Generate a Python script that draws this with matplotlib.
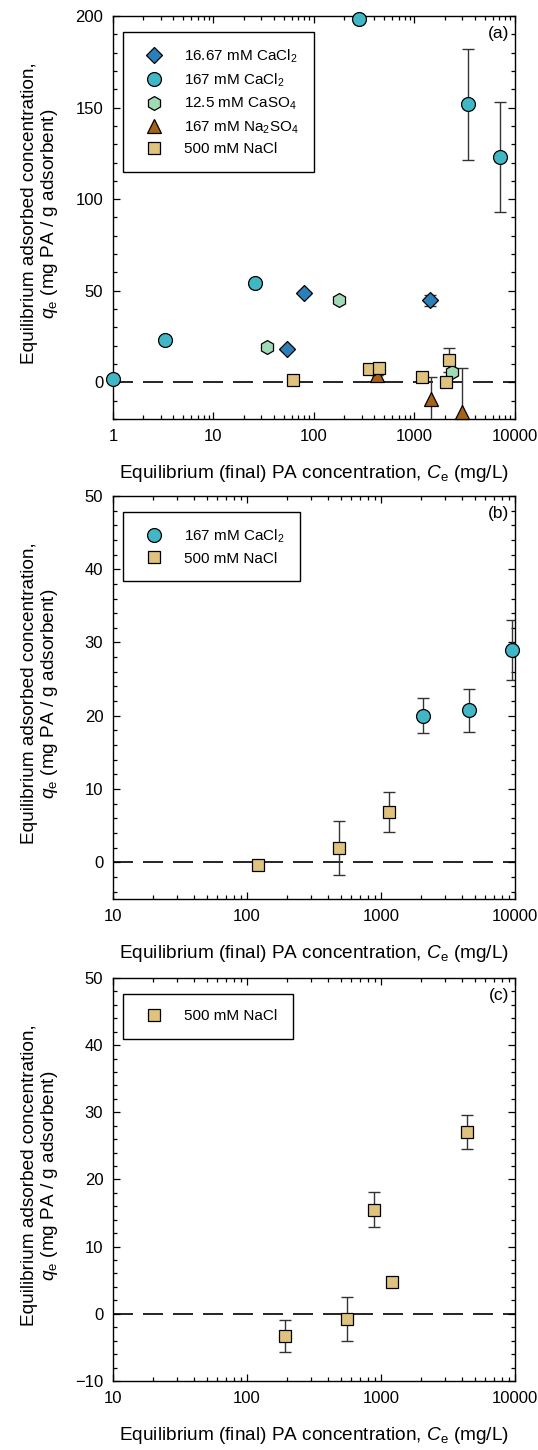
import numpy as np
import matplotlib
matplotlib.use("Agg")
import matplotlib.pyplot as plt
from matplotlib.ticker import LogLocator, MultipleLocator, NullFormatter

plt.rcParams["font.family"] = ["Liberation Sans", "DejaVu Sans"]
plt.rcParams["mathtext.fontset"] = "custom"
plt.rcParams["mathtext.rm"] = "Liberation Sans"
plt.rcParams["mathtext.it"] = "Liberation Sans:italic"
plt.rcParams["font.size"] = 12

# ---- panel (a) data ----
a_cacl2_lo_x = [53.5, 79, 1426]
a_cacl2_lo_y = [18.4, 49, 44.8]
a_cacl2_lo_e = [0, 0, 3.0]

a_cacl2_hi_x = [1.0, 3.3, 25.9, 282, 3430, 7100]
a_cacl2_hi_y = [2.0, 23.0, 54.3, 198.5, 151.7, 123.0]
a_cacl2_hi_e = [0, 0, 0, 0, 30.5, 30.0]

a_caso4_x = [34.3, 176, 2378]
a_caso4_y = [19.3, 44.8, 5.6]
a_caso4_e = [0, 0, 0]

a_na2so4_x = [421, 1459, 2946]
a_na2so4_y = [4.0, -8.9, -16.2]
a_na2so4_e = [0, 11.6, 24.0]

a_nacl_x = [61.4, 355, 447, 1180, 2043, 2218]
a_nacl_y = [1.5, 7.5, 7.8, 2.9, 0.2, 12.4]
a_nacl_e = [0, 0, 0, 0, 0, 6.6]

# ---- panel (b) data ----
b_cacl2_x = [2047, 4508, 9440]
b_cacl2_y = [20.0, 20.75, 29.0]
b_cacl2_e = [2.4, 2.9, 4.1]

b_nacl_x = [121, 489, 1153]
b_nacl_y = [-0.4, 1.95, 6.85]
b_nacl_e = [0, 3.7, 2.7]

# ---- panel (c) data ----
c_nacl_x = [192, 555, 887, 1208, 4385]
c_nacl_y = [-3.3, -0.74, 15.5, 4.66, 27.1]
c_nacl_e = [2.4, 3.3, 2.6, 0.3, 2.5]

C_DIAM = "#2c7fb8"
C_CIRC = "#41b6c4"
C_HEX = "#a1dab4"
C_TRI = "#a6611a"
C_SQ = "#dfc27d"
ERR = "#333333"

XLABEL = "Equilibrium (final) PA concentration, $\\mathit{C}_\\mathrm{e}$ (mg/L)"
YLABEL = "Equilibrium adsorbed concentration,\n$\\mathit{q}_\\mathrm{e}$ (mg PA / g adsorbent)"

fig = plt.figure(figsize=(5.38, 14.5), dpi=100)
L, W = 0.210, 0.747
ax_a = fig.add_axes([L, 0.711, W, 0.278])
ax_b = fig.add_axes([L, 0.380, W, 0.278])
ax_c = fig.add_axes([L, 0.0476, W, 0.278])


def series(ax, x, y, e, marker, color, ms, label):
    ax.errorbar(x, y, yerr=e, fmt="none", ecolor=ERR, elinewidth=1.0,
                capsize=4.5, capthick=1.0, zorder=2)
    ax.plot(x, y, ls="none", marker=marker, ms=ms, mfc=color, mec="black",
            mew=0.9, label=label, zorder=3, clip_on=False)


def style(ax, xlim, ylim, major, minor, tag):
    ax.set_xscale("log")
    ax.set_xlim(*xlim)
    ax.set_ylim(*ylim)
    ax.axhline(0, color="black", lw=1.2, dashes=(12, 6), zorder=1)
    ax.xaxis.set_major_locator(LogLocator(base=10, numticks=10))
    ax.xaxis.set_minor_locator(LogLocator(base=10, subs=np.arange(2, 10), numticks=10))
    ax.xaxis.set_minor_formatter(NullFormatter())
    ax.xaxis.set_major_formatter(plt.FuncFormatter(lambda v, p: f"{v:g}"))
    ax.yaxis.set_major_locator(MultipleLocator(major))
    ax.yaxis.set_minor_locator(MultipleLocator(minor))
    ax.tick_params(which="both", direction="in", top=True, right=True, width=0.9)
    ax.tick_params(which="major", length=5, pad=7, labelsize=12)
    ax.tick_params(which="minor", length=3)
    for s in ax.spines.values():
        s.set_linewidth(1.0)
    ax.set_xlabel(XLABEL, fontsize=13.7, labelpad=14)
    ax.set_ylabel(YLABEL, fontsize=13.7, linespacing=1.05)
    ax.yaxis.set_label_coords(-0.132, 0.51)
    ax.text(0.985, 0.975, tag, transform=ax.transAxes, ha="right", va="top",
            fontsize=12.5)


# (a)
series(ax_a, a_cacl2_lo_x, a_cacl2_lo_y, a_cacl2_lo_e, "D", C_DIAM, 8.5,
       "16.67 mM CaCl$_2$")
series(ax_a, a_cacl2_hi_x, a_cacl2_hi_y, a_cacl2_hi_e, "o", C_CIRC, 10,
       "167 mM CaCl$_2$")
series(ax_a, a_caso4_x, a_caso4_y, a_caso4_e, "h", C_HEX, 10,
       "12.5 mM CaSO$_4$")
series(ax_a, a_na2so4_x, a_na2so4_y, a_na2so4_e, "^", C_TRI, 10,
       "167 mM Na$_2$SO$_4$")
series(ax_a, a_nacl_x, a_nacl_y, a_nacl_e, "s", C_SQ, 8.5, "500 mM NaCl")
style(ax_a, (1, 10000), (-20, 200), 50, 10, "(a)")

# (b)
series(ax_b, b_cacl2_x, b_cacl2_y, b_cacl2_e, "o", C_CIRC, 10, "167 mM CaCl$_2$")
series(ax_b, b_nacl_x, b_nacl_y, b_nacl_e, "s", C_SQ, 8.5, "500 mM NaCl")
style(ax_b, (10, 10000), (-5, 50), 10, 2, "(b)")

# (c)
series(ax_c, c_nacl_x, c_nacl_y, c_nacl_e, "s", C_SQ, 8.5, "500 mM NaCl")
style(ax_c, (10, 10000), (-10, 50), 10, 2, "(c)")

for ax in (ax_a, ax_b, ax_c):
    leg = ax.legend(loc="upper left", bbox_to_anchor=(0.025, 0.96), fontsize=11,
                    fancybox=False, edgecolor="black", framealpha=1,
                    borderpad=1.0, handletextpad=1.0, labelspacing=0.45,
                    borderaxespad=0, handlelength=2.0)
    leg.get_frame().set_linewidth(1.0)

fig.savefig("out.png", dpi=100)
